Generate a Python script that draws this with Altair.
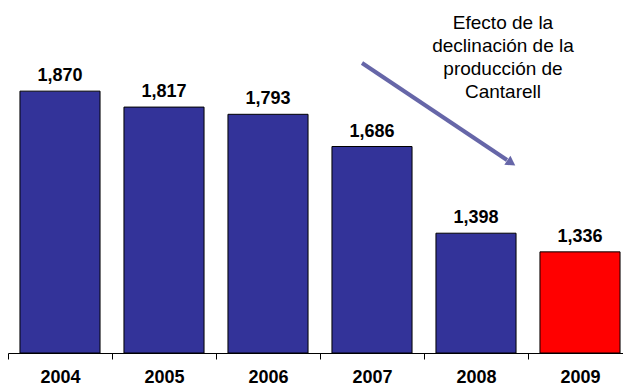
import altair as alt
import pandas as pd

# Oil production by year (thousand barrels per day)
years = ["2004", "2005", "2006", "2007", "2008", "2009"]
production = [1870, 1817, 1793, 1686, 1398, 1336]
bar_colors = ["#333399", "#333399", "#333399", "#333399", "#333399", "#ff0000"]

note_lines = ["Efecto de la", "declinación de la", "producción de", "Cantarell"]

FONT = "Liberation Sans"

df = pd.DataFrame({"year": years, "value": production, "color": bar_colors})
single = pd.DataFrame({"k": [0]})  # one row for annotation marks

x = alt.X(
    "year:N",
    sort=years,
    title=None,
    scale=alt.Scale(range=[0, 624], paddingInner=0, paddingOuter=0),
    axis=alt.Axis(
        tickBand="extent",
        labelAngle=0,
        labelFont=FONT,
        labelFontSize=18,
        labelFontWeight="bold",
        labelColor="black",
        labelPadding=9,
        tickSize=6,
        tickColor="black",
        domainColor="black",
        domainWidth=1,
        grid=False,
    ),
)
y = alt.Y(
    "value:Q",
    scale=alt.Scale(domain=[1000, 2000], zero=False, nice=False),
    axis=None,
)

base = alt.Chart(df)

bars = base.mark_bar(
    width=alt.RelativeBandSize(0.77), stroke="black", strokeWidth=1
).encode(
    x=x,
    y=y,
    y2=alt.datum(1000),
    color=alt.Color("color:N", scale=None),
)

value_labels = base.mark_text(
    dy=-10, baseline="alphabetic", font=FONT, fontSize=18, fontWeight="bold", color="black"
).encode(
    x=x,
    y=y,
    text=alt.Text("value:Q", format=","),
)

# Annotation: note text and a downward arrow
note = alt.Chart(single).mark_text(
    font=FONT, fontSize=19, fontWeight="normal", color="black", align="center",
    baseline="alphabetic", lineHeight=23,
).encode(
    x=alt.value(495), y=alt.value(-23), text=alt.value(note_lines)
)

arrow_line = alt.Chart(single).mark_rule(
    color="#6666a8", strokeWidth=4
).encode(
    x=alt.value(354), x2=alt.value(499), y=alt.value(11), y2=alt.value(108)
)

arrow_head = alt.Chart(single).mark_point(
    shape="triangle", filled=True, color="#6666a8", size=120, angle=124, opacity=1
).encode(
    x=alt.value(502), y=alt.value(110)
)

chart = (
    alt.layer(bars, value_labels, arrow_line, arrow_head, note)
    .properties(
        width=615,
        height=301,
        autosize=alt.AutoSizeParams(type="none"),
        padding={"left": 8, "top": 52, "right": 0, "bottom": 34},
        background="white",
    )
    .configure_view(stroke=None)
)

chart.save("out.html", embed_options={"renderer": "svg", "actions": False})
